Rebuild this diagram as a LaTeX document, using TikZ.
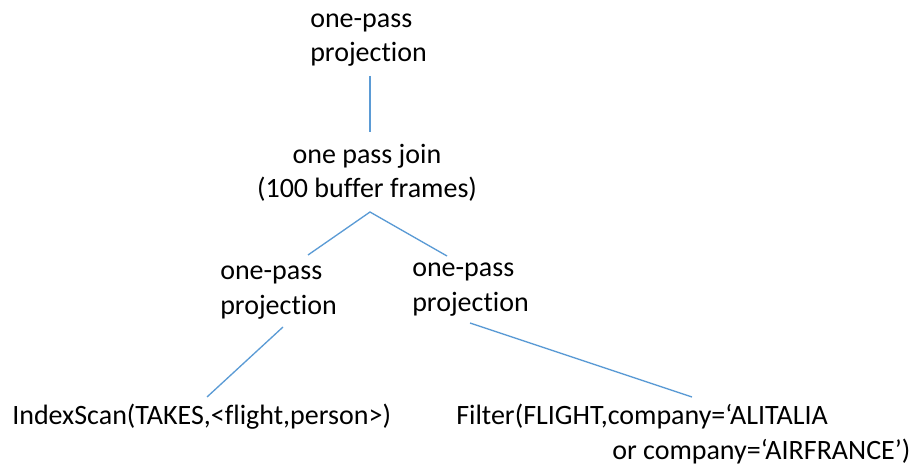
\documentclass[tikz,border=0pt]{standalone}
\usepackage{fontspec}
\setmainfont[Ligatures={NoCommon,NoRare}]{Carlito}
\definecolor{edgeblue}{RGB}{91,155,213}
\begin{document}
\begin{tikzpicture}[x=0.75pt,y=-0.75pt,
  lbl/.style={inner sep=0pt, font=\fontsize{21}{26}\selectfont, anchor=base west, align=left},
  edge/.style={draw=edgeblue, line width=1pt}]
\useasboundingbox (0,0) rectangle (919,466);
\node[lbl] (top) at (310,62) {one-pass\\projection};
\node[lbl, anchor=base, align=center] (join) at (367,198) {one pass join\\(100 buffer frames)};
\node[lbl] (lp) at (220,314) {one-pass\\projection};
\node[lbl] (rp) at (412,311) {one-pass\\projection};
\node[lbl] (idx) at (12,424) {IndexScan(TAKES,<flight,person>)};
\node[lbl] (flt) at (456,459) {Filter(FLIGHT,company=‘ALITALIA\\\hspace*{117pt}or company=‘AIRFRANCE’)};
\coordinate (t1) at (370,76);
\coordinate (t2) at (370,132);
\coordinate (apex) at (370,212);
\coordinate (jl) at (308,255);
\coordinate (jr) at (447,256);
\coordinate (l1) at (283,327);
\coordinate (l2) at (207,397);
\coordinate (r1) at (470,323);
\coordinate (r2) at (692,397);
\draw[edge] (t1) -- (t2);
\draw[edge] (jl) -- (apex) -- (jr);
\draw[edge] (l1) -- (l2);
\draw[edge] (r1) -- (r2);
\end{tikzpicture}
\end{document}
